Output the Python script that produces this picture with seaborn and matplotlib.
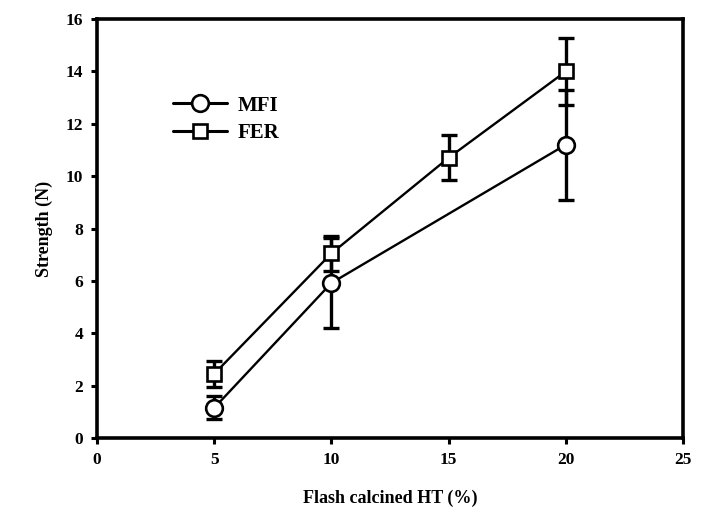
import matplotlib
matplotlib.use("Agg")
import matplotlib.pyplot as plt
import seaborn as sns
import pandas as pd
from matplotlib.lines import Line2D

x_mfi = [5, 10, 20]
y_mfi = [1.15, 5.92, 11.2]
e_mfi = [0.44, 1.72, 2.1]

x_fer = [5, 10, 15, 20]
y_fer = [2.45, 7.05, 10.7, 14.0]
e_fer = [0.5, 0.67, 0.86, 1.27]

xticks = [0, 5, 10, 15, 20, 25]
yticks = [0, 2, 4, 6, 8, 10, 12, 14, 16]

sns.set_style("ticks")
plt.rcParams['font.family'] = ['Liberation Serif', 'DejaVu Serif']
plt.rcParams['font.weight'] = 'bold'
plt.rcParams['text.color'] = 'black'
plt.rcParams['axes.labelcolor'] = 'black'

df = pd.concat([
    pd.DataFrame({'x': x_mfi, 'y': y_mfi, 'series': 'MFI'}),
    pd.DataFrame({'x': x_fer, 'y': y_fer, 'series': 'FER'}),
])

fig = plt.figure(figsize=(7.1, 5.18), dpi=100)
ax = fig.add_axes([0.1366, 0.1544, 0.962 - 0.1366, 0.9633 - 0.1544])

for xs, ys, es in [(x_mfi, y_mfi, e_mfi), (x_fer, y_fer, e_fer)]:
    ax.errorbar(xs, ys, yerr=es, fmt='none', ecolor='black', elinewidth=2.4,
                capsize=6, capthick=2.4, zorder=2)

sns.lineplot(data=df, x='x', y='y', style='series', markers={'MFI': 'o', 'FER': 's'},
             dashes=False, color='black', linewidth=1.7, ax=ax, legend=False,
             markersize=12, markerfacecolor='white', markeredgecolor='black',
             markeredgewidth=1.9, zorder=3, sort=False)
for ln in ax.lines:
    if ln.get_marker() == 's':
        ln.set_markersize(10.5)

ax.set_xlim(0, 25)
ax.set_ylim(0, 16)
ax.set_xticks(xticks)
ax.set_yticks(yticks)
ax.tick_params(direction='out', length=4, width=2.2, labelsize=12.5, pad=6,
               color='black', labelcolor='black')
for lab in ax.get_xticklabels() + ax.get_yticklabels():
    lab.set_fontweight('bold')
for sp in ax.spines.values():
    sp.set_linewidth(2.6)
    sp.set_color('black')
    sp.set_visible(True)

ax.set_xlabel('Flash calcined HT (%)', fontsize=13, fontweight='bold', labelpad=16,
              color='black')
ax.set_ylabel('Strength (N)', fontsize=13, fontweight='bold', labelpad=9,
              color='black')

handles = [
    Line2D([], [], color='black', lw=2.2, marker='o', markersize=12,
           markerfacecolor='white', markeredgewidth=1.9),
    Line2D([], [], color='black', lw=2.2, marker='s', markersize=10.5,
           markerfacecolor='white', markeredgewidth=1.9),
]
leg = ax.legend(handles, ['MFI', 'FER'], loc='upper left', bbox_to_anchor=(0.097, 0.862),
                frameon=False, prop={'size': 15, 'weight': 'bold'}, handlelength=2.6,
                labelspacing=0.35, handletextpad=0.5, labelcolor='black')

fig.savefig('out.png', dpi=100)
